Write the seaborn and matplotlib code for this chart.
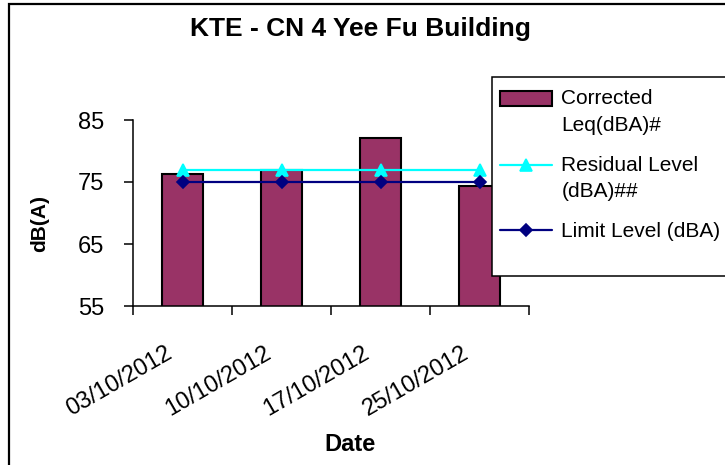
import numpy as np
import seaborn as sns
import matplotlib.pyplot as plt
from matplotlib.patches import Rectangle, Patch
from matplotlib.transforms import ScaledTranslation

dates = ["03/10/2012", "10/10/2012", "17/10/2012", "25/10/2012"]
corrected = [76.3, 77.0, 82.1, 74.3]
residual = [77.0, 77.0, 77.0, 77.0]
limit = [75.0, 75.0, 75.0, 75.0]
yticks = [55, 65, 75, 85]

labels = ["Corrected\nLeq(dBA)#", "Residual Level\n(dBA)##", "Limit Level (dBA)"]

sns.set_style("white")
plt.rcParams["font.family"] = ["Liberation Sans", "DejaVu Sans"]
plt.rcParams.update({"text.color": "black", "axes.labelcolor": "black",
                     "xtick.color": "black", "ytick.color": "black"})

fig = plt.figure(figsize=(7.25, 4.65), dpi=100)
ax = fig.add_axes([133 / 725, 1 - 306 / 465, 396 / 725, 186 / 465])

sns.barplot(x=dates, y=corrected, color="#993366", saturation=1, width=0.42,
            edgecolor="black", linewidth=1.5, errorbar=None, ax=ax)
sns.pointplot(x=dates, y=residual, color="#00FFFF", markers="^", markersize=9,
              linewidth=1.6, errorbar=None, ax=ax)
sns.pointplot(x=dates, y=limit, color="#000080", markers="D", markersize=6,
              linewidth=1.6, errorbar=None, ax=ax)

ax.set_ylim(55, 85)
ax.set_xlim(-0.5, len(dates) - 0.5)
ax.set_yticks(yticks)
ax.tick_params(axis="y", direction="out", length=6.5, width=1.1, pad=14,
               labelsize=17, left=True)

# tick marks between the categories, labels under the bars
ax.set_xticks(np.arange(len(dates) + 1) - 0.5)
ax.set_xticklabels([])
ax.set_xticks(np.arange(len(dates)) - 0.18, minor=True)
ax.set_xticklabels(dates, minor=True, rotation=30, ha="right", va="top",
                   rotation_mode="anchor", fontsize=17)
ax.tick_params(axis="x", which="major", direction="out", length=6.5, width=1.1,
               bottom=True)
ax.tick_params(axis="x", which="minor", length=0, pad=26)

for side in ["top", "right"]:
    ax.spines[side].set_visible(False)
for side in ["left", "bottom"]:
    ax.spines[side].set_linewidth(1.1)
    ax.spines[side].set_color("black")

ax.set_xlabel("Date", fontsize=17, fontweight="bold", va="center")
ax.xaxis.set_label_coords((350 - 133) / 396, (306 - 444) / 186)
ax.set_ylabel("dB(A)", fontsize=15, fontweight="bold", va="center")
ax.yaxis.set_label_coords((40 - 133) / 396, (306 - 223) / 186)

fig.text(360 / 725, 1 - 36 / 465, "KTE - CN 4 Yee Fu Building", ha="center",
         va="baseline", fontsize=19, fontweight="bold")

# outer chart border and legend box
fig.add_artist(Rectangle((9 / 725, -0.1), 1.2, 1.1 - 4 / 465, transform=fig.transFigure,
                         fill=False, edgecolor="black", linewidth=1.6, clip_on=False))
fig.add_artist(Rectangle((492 / 725, 1 - 276 / 465), 0.5, 199 / 465,
                         transform=fig.transFigure, facecolor="white",
                         edgecolor="black", linewidth=1.1, clip_on=False, zorder=2))

handles = [ax.containers[0].patches[0], ax.lines[0], ax.lines[1]]
leg = fig.legend(handles, labels, loc="upper left",
                 bbox_to_anchor=(492 / 725, 1 - 81 / 465), borderaxespad=0,
                 borderpad=0.4, frameon=False, fontsize=15, handlelength=2.5,
                 handletextpad=0.43, labelspacing=1.0)
leg.set_zorder(5)
for t in leg.get_texts():
    t.set_linespacing(1.5)
# keep each handle level with the first line of its label, as in the original
for h, lab in zip(leg.legend_handles, labels):
    if "\n" in lab:
        base = h.get_data_transform() if isinstance(h, Patch) else h.get_transform()
        h.set_transform(base + ScaledTranslation(0, 13.5 / 100, fig.dpi_scale_trans))

fig.savefig("out.png", dpi=100)
